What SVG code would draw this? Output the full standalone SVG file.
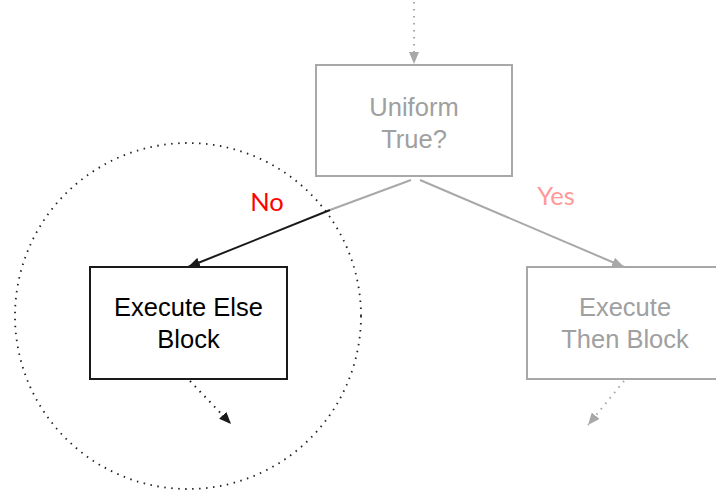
<svg xmlns="http://www.w3.org/2000/svg" width="716" height="492" viewBox="0 0 716 492">
<style>
.box{fill:#fff;stroke-width:2}
.gray{stroke:#a8a8a8}
.blk{stroke:#1a1a1a}
.t{font-family:"Liberation Sans",Arial,sans-serif;font-size:25.5px;text-anchor:middle}
.tg{fill:#a0a0a0}
.tb{fill:#000}
.lbl{font-family:Lato,"Liberation Sans",sans-serif;font-size:25.5px;text-anchor:middle}
.ln{fill:none;stroke-width:2}
.dot{fill:none;stroke-width:2;stroke-dasharray:1.5 5.5}
</style>
<defs>
<marker id="ag" viewBox="0 0 12 10" refX="12" refY="5" markerWidth="12" markerHeight="10" markerUnits="userSpaceOnUse" orient="auto"><path d="M0,0 L12,5 L0,10 Z" fill="#a8a8a8"/></marker>
<marker id="ab" viewBox="0 0 12 10" refX="12" refY="5" markerWidth="12" markerHeight="10" markerUnits="userSpaceOnUse" orient="auto"><path d="M0,0 L12,5 L0,10 Z" fill="#1a1a1a"/></marker>
</defs>
<g id="focus">
<circle cx="188" cy="316" r="173" fill="none" stroke="#222" stroke-width="1.8" stroke-dasharray="1.5 5.5"/>
</g>
<g id="connectors">
<line class="dot gray" x1="414" y1="2" x2="414" y2="64" marker-end="url(#ag)"/>
<line class="ln gray" x1="411" y1="180" x2="330" y2="210"/>
<line class="ln blk" x1="330" y1="210" x2="188" y2="267" marker-end="url(#ab)"/>
<line class="ln gray" x1="420" y1="180" x2="624" y2="267" marker-end="url(#ag)"/>
<line class="dot blk" x1="190" y1="381" x2="231" y2="424" marker-end="url(#ab)"/>
<line class="dot gray" x1="624" y1="381" x2="588" y2="425" marker-end="url(#ag)"/>
<text class="lbl" x="267" y="211" fill="#ff0000">No</text>
<text class="lbl" x="556" y="205" fill="#ff9999">Yes</text>
</g>
<g id="uniform">
<rect class="box gray" x="316" y="65" width="196" height="111"/>
<text class="t tg" x="414" y="116">Uniform</text>
<text class="t tg" x="414" y="148">True?</text>
</g>
<g id="else">
<rect class="box blk" x="90" y="267" width="197" height="112"/>
<text class="t tb" x="188.5" y="316">Execute Else</text>
<text class="t tb" x="188.5" y="348">Block</text>
</g>
<g id="then">
<rect class="box gray" x="527" y="267" width="197" height="112"/>
<text class="t tg" x="625" y="316">Execute</text>
<text class="t tg" x="625" y="348">Then Block</text>
</g>
</svg>
